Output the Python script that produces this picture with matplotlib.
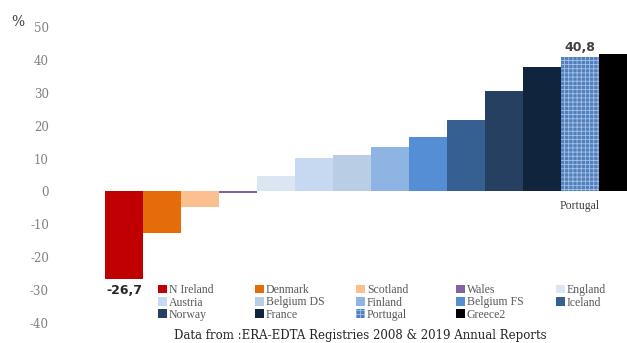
import matplotlib
matplotlib.use("Agg")
import matplotlib.pyplot as plt
from matplotlib.patches import Patch

# values (% change)
countries = ["N Ireland", "Denmark", "Scotland", "Wales", "England", "Austria",
             "Belgium DS", "Finland", "Belgium FS", "Iceland", "Norway", "France",
             "Portugal", "Greece2"]
values = [-26.7, -12.5, -4.8, -0.6, 4.6, 10.3, 11.0, 13.4, 16.6, 21.6, 30.5, 37.7, 40.8, 41.8]
colors = ["#C00000", "#E46C0A", "#FAC090", "#8064A2", "#DCE6F2", "#C6D9F1",
          "#B9CDE5", "#8EB4E3", "#558ED5", "#376092", "#254061", "#10243E",
          "#4F81BD", "#000000"]
yticks = [-40, -30, -20, -10, 0, 10, 20, 30, 40, 50]

plt.rcParams["font.family"] = ["DejaVu Serif"]
plt.rcParams["axes.unicode_minus"] = False
plt.rcParams["hatch.color"] = "#A9C0E6"
plt.rcParams["hatch.linewidth"] = 0.6

fig = plt.figure(figsize=(6.27, 3.43), dpi=100)
ax = fig.add_axes([60 / 627, 20 / 343, 567 / 627, 296 / 343])

x = list(range(len(values)))
bars = ax.bar(x, values, width=1.0, color=colors, linewidth=0)
bars[12].set_hatch("++++")
bars[12].set_edgecolor("#A9C0E6")

ax.set_xlim(-1.684, -1.684 + 567 / 38)
ax.set_ylim(-40, 50)
ax.set_yticks(yticks)
ax.tick_params(axis="y", length=0, labelsize=8.5, labelcolor="#808080", pad=8)
ax.set_xticks([])
for s in ax.spines.values():
    s.set_visible(False)

# annotations
ax.text(0, values[0] - 1.5, "-26,7", ha="center", va="top", fontsize=9,
        fontweight="bold", color="#262626", family="DejaVu Sans")
ax.text(12, values[12] + 1.0, "40,8", ha="center", va="bottom", fontsize=9,
        fontweight="bold", color="#404040", family="DejaVu Sans")
ax.text(12, -2.5, "Portugal", ha="center", va="top", fontsize=8.5, color="#404040",
        family="Liberation Serif")
fig.text(18 / 627, 1 - 22 / 343, "%", ha="center", va="center", fontsize=10,
         color="#404040")

# legend: 5 columns at fixed positions, filled row by row
handles = []
for c, lab, i in zip(colors, countries, x):
    if i == 12:
        handles.append(Patch(facecolor=c, hatch="++++", edgecolor="#A9C0E6", linewidth=0, label=lab))
    else:
        handles.append(Patch(facecolor=c, linewidth=0, label=lab))
col_x = [150, 247, 348, 448, 548]
for col in range(5):
    idx = [i for i in range(col, len(countries), 5)]
    leg = fig.legend([handles[i] for i in idx], [countries[i] for i in idx],
                     loc="upper left", bbox_to_anchor=(col_x[col] / 627, 1 - 276 / 343),
                     frameon=False, handlelength=0.7, handleheight=0.7,
                     handletextpad=0.2, labelspacing=0.02, borderpad=0.2,
                     prop={"family": "Liberation Serif", "size": 8.5})
    for t in leg.get_texts():
        t.set_color("#595959")

fig.text(360 / 627, 1 - 336 / 343, "Data from :ERA-EDTA Registries 2008 & 2019 Annual Reports",
         ha="center", va="center", fontsize=8.5, color="#262626")

fig.savefig("out.png", dpi=100)
